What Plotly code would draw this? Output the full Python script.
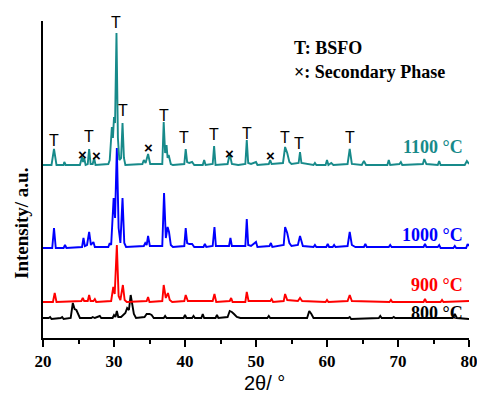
import plotly.graph_objects as go

# ---------------- data (2θ in degrees, intensity in arbitrary units, offset per curve) -------------
theta_1100 = [20.0, 21.2, 21.55, 21.9, 22.9, 23.0, 23.2, 25.2, 25.5, 25.65, 25.8, 26.0, 26.3, 26.5, 26.7,
              27.0, 27.2, 27.4, 29.2, 29.4, 29.7, 29.85, 30.0, 30.15, 30.35, 30.55, 30.75, 31.0, 31.2,
              31.4, 31.6, 34.0, 34.2, 34.45, 34.8, 35.1, 36.8, 37.0, 37.2, 37.4, 37.55, 37.7, 38.0, 38.3,
              39.9, 40.1, 40.3, 40.6, 41.0, 41.3, 42.5, 42.7, 42.9, 43.9, 44.1, 44.3, 46.0, 46.3, 46.6,
              47.5, 48.5, 48.7, 48.9, 49.3, 50.0, 50.2, 51.8, 52.0, 52.2, 53.8, 54.1, 54.4, 54.7, 55.0,
              56.0, 56.2, 56.4, 58.1, 58.3, 58.5, 59.8, 60.0, 60.2, 60.6, 60.9, 62.9, 63.2, 63.5, 64.9,
              65.2, 65.5, 68.5, 68.7, 68.9, 70.2, 70.4, 70.6, 73.5, 73.7, 74.0, 75.6, 75.8, 76.0, 79.4,
              79.7, 80.0]
int_1100 = [173, 173, 189, 173, 173, 176, 173, 173, 181, 176, 180, 173, 174, 189, 174,
            174, 180, 173, 174, 178, 211, 200, 221, 215, 305, 200, 178, 180, 215,
            180, 173, 174, 178, 175, 184, 174, 174, 216, 185, 193, 180, 183, 174, 173,
            174, 189, 176, 175, 176, 173, 173, 178, 173, 174, 192, 173, 174, 184, 174,
            173, 174, 198, 175, 174, 176, 173, 174, 178, 174, 175, 191, 185, 176, 174,
            175, 186, 175, 173, 175, 173, 173, 178, 173, 175, 173, 174, 189, 174, 173,
            177, 173, 173, 178, 173, 174, 176, 173, 174, 179, 174, 173, 177, 173, 173,
            177, 174]

theta_1000 = [20.0, 21.3, 21.55, 21.8, 22.9, 23.1, 23.3, 25.5, 25.7, 25.9, 26.2, 26.5, 26.75, 27.1, 27.3,
              29.2, 29.4, 29.6, 29.95, 30.15, 30.4, 30.65, 30.9, 31.2, 31.45, 31.7, 34.2, 34.4, 34.6,
              34.8, 35.05, 36.8, 37.05, 37.3, 37.55, 37.75, 38.0, 38.3, 39.9, 40.1, 40.3, 40.6, 41.0,
              41.3, 42.6, 42.8, 43.0, 43.9, 44.15, 44.35, 46.2, 46.4, 46.6, 48.5, 48.7, 48.9, 49.3,
              50.0, 50.2, 51.9, 52.1, 52.3, 53.9, 54.1, 54.4, 54.7, 55.0, 55.9, 56.2, 56.4, 56.6, 58.1,
              58.3, 58.5, 59.9, 60.1, 60.3, 60.8, 61.0, 61.2, 62.9, 63.2, 63.5, 64.0, 65.2, 65.4, 65.6,
              68.7, 68.9, 69.1, 73.6, 73.8, 74.0, 75.6, 75.8, 76.0, 77.8, 78.0, 78.2, 79.6, 79.8, 80.0]
int_1000 = [90, 90, 110, 90, 90, 93, 90, 91, 100, 92, 93, 106, 93, 96, 91,
            91, 95, 93, 140, 120, 190, 110, 95, 140, 95, 91, 92, 95, 93,
            102, 92, 92, 145, 100, 111, 106, 93, 91, 92, 110, 95, 94, 94,
            91, 91, 94, 91, 92, 111, 92, 92, 100, 92, 92, 119, 93, 92,
            96, 91, 92, 95, 91, 93, 111, 105, 95, 92, 93, 102, 98, 92, 91,
            93, 91, 91, 94, 91, 91, 93, 91, 92, 106, 93, 91, 91, 94, 91,
            91, 93, 91, 91, 94, 91, 91, 93, 90, 90, 92, 90, 90, 94, 92]

theta_900 = [20.0, 21.4, 21.65, 21.9, 25.4, 25.6, 25.8, 26.3, 26.5, 26.7, 27.1, 27.3, 27.5, 29.6, 29.9,
             30.1, 30.4, 30.65, 30.9, 31.25, 31.5, 31.8, 34.6, 34.8, 35.0, 36.8, 37.0, 37.3, 37.6,
             37.85, 38.2, 39.9, 40.1, 40.4, 43.9, 44.15, 44.4, 46.3, 46.5, 46.7, 48.5, 48.7, 48.95,
             52.0, 52.2, 52.4, 53.9, 54.1, 54.4, 55.9, 56.2, 56.5, 59.8, 60.0, 60.2, 62.9, 63.2, 63.5,
             68.8, 69.0, 69.2, 73.6, 73.8, 74.0, 76.0, 76.2, 76.4, 80.0]
int_900 = [36, 36, 45, 36, 37, 40, 37, 37, 43, 37, 37, 39, 36, 37, 51,
           44, 93, 42, 38, 53, 38, 36, 37, 41, 36, 37, 53, 40, 45,
           38, 36, 37, 43, 37, 37, 44, 36, 37, 40, 36, 36, 46, 37,
           37, 39, 36, 37, 44, 38, 37, 40, 37, 36, 38, 36, 37, 43, 37,
           36, 38, 36, 36, 39, 36, 36, 38, 36, 37]

theta_800 = [20.0, 20.8, 21.0, 21.2, 22.5, 22.7, 22.9, 23.9, 24.2, 24.45, 24.7, 24.95, 25.2, 26.8, 27.0,
             27.3, 28.0, 28.2, 29.8, 30.0, 30.2, 30.4, 30.6, 31.0, 31.6, 31.85, 32.1, 32.35, 32.6,
             32.8, 33.1, 34.3, 34.6, 35.0, 35.3, 35.6, 37.0, 37.2, 37.4, 39.8, 40.0, 40.2, 41.0, 41.2,
             41.4, 42.3, 42.5, 42.7, 44.3, 44.5, 44.7, 46.0, 46.3, 46.6, 46.9, 47.3, 47.8, 51.6, 51.8,
             52.0, 57.2, 57.5, 57.8, 58.1, 60.0, 63.0, 63.2, 63.4, 67.3, 67.5, 67.7, 69.2, 69.4, 69.6,
             77.7, 78.0, 78.3, 80.0]
int_800 = [20, 20, 21, 19, 20, 21, 19, 20, 35, 29, 28, 24, 20, 20, 21,
           20, 22, 20, 20, 23, 21, 27, 21, 21, 25, 30, 28, 43, 33,
           24, 20, 21, 24, 24, 23, 20, 20, 22, 20, 20, 23, 20, 20, 22,
           20, 20, 24, 20, 20, 23, 20, 21, 27, 26, 24, 21, 20, 20, 22,
           20, 20, 27, 24, 20, 20, 20, 21, 19, 20, 22, 20, 20, 21, 20,
           20, 24, 20, 19]

series_names = ["800 °C", "900 °C", "1000 °C", "1100 °C"]
series_colors = ["#000000", "#FF0000", "#0000FF", "#178A8A"]
label_y = [25, 53, 103, 191]

# BSFO (T) and secondary phase (×) markers on the 1100 °C curve
T_theta = [21.55, 26.5, 30.35, 31.2, 37.0, 39.9, 44.1, 48.7, 54.1, 56.1, 63.2]
T_int = [198, 202, 316, 228, 223, 201, 204, 205, 201, 195, 201]
X_theta = [25.5, 27.5, 34.9, 46.2, 52.0]
X_int = [184, 183, 191, 185, 183]

x_ticks = [20, 30, 40, 50, 60, 70, 80]

# ---------------- figure -------------
fig = go.Figure()
curves = [(theta_800, int_800), (theta_900, int_900), (theta_1000, int_1000), (theta_1100, int_1100)]
for (tx, ty), name, col in zip(curves, series_names, series_colors):
    fig.add_trace(go.Scatter(x=tx, y=ty, mode="lines", name=name,
                             line=dict(color=col, width=1.9), hoverinfo="skip"))

# phase markers
for tx, ty in zip(T_theta, T_int):
    fig.add_annotation(x=tx, y=ty, xref="x", yref="y", text="T", showarrow=False,
                       xanchor="center", yanchor="middle",
                       font=dict(family="Liberation Sans", size=16, color="#000000"))
for tx, ty in zip(X_theta, X_int):
    fig.add_annotation(x=tx, y=ty, xref="x", yref="y", text="×", showarrow=False,
                       xanchor="center", yanchor="middle",
                       font=dict(family="Liberation Sans", size=15, color="#000000", weight="bold"))

# curve labels
for name, col, ly in zip(series_names, series_colors, label_y):
    fig.add_annotation(x=79.4, y=ly, xref="x", yref="y", text=name, showarrow=False,
                       xanchor="right", yanchor="middle",
                       font=dict(family="Liberation Serif", size=18, color=col, weight="bold"))

# legend text
fig.add_annotation(x=55.07, y=290, xref="x", yref="y", text="T: BSFO", showarrow=False,
                   xanchor="left", yanchor="middle",
                   font=dict(family="Liberation Serif", size=18, color="#000000", weight="bold"))
fig.add_annotation(x=55.07, y=266, xref="x", yref="y", text="×: Secondary Phase", showarrow=False,
                   xanchor="left", yanchor="middle",
                   font=dict(family="Liberation Serif", size=18, color="#000000", weight="bold"))

# axis titles
fig.add_annotation(x=0.521, y=-0.142, xref="paper", yref="paper", text="2θ/ °", showarrow=False,
                   xanchor="center", yanchor="middle",
                   font=dict(family="Liberation Sans", size=20, color="#000000"))
fig.add_annotation(x=-0.049, y=0.36, xref="paper", yref="paper", text="Intensity/ a.u.",
                   showarrow=False, textangle=-90, xanchor="center", yanchor="middle",
                   font=dict(family="Liberation Serif", size=19, color="#000000", weight="bold"))

fig.update_layout(
    width=477, height=395,
    margin=dict(l=43, r=8, t=21, b=57, autoexpand=False),
    paper_bgcolor="white", plot_bgcolor="white",
    showlegend=False,
    xaxis=dict(range=[20, 80], tickvals=x_ticks, ticktext=[str(v) for v in x_ticks],
               automargin=False,
               showline=True, linecolor="black", linewidth=2, mirror=False,
               ticks="outside", ticklen=7, tickwidth=2, tickcolor="black",
               ticklabeloverflow="allow",
               minor=dict(dtick=5, tick0=20, ticks="outside", ticklen=4, tickwidth=1.5, tickcolor="black"),
               showgrid=False, zeroline=False,
               tickfont=dict(family="Liberation Serif", size=17, color="black", weight="bold")),
    yaxis=dict(range=[0, 317], showline=True, linecolor="black", linewidth=2, automargin=False,
               showticklabels=False, ticks="", showgrid=False, zeroline=False),
)

fig.write_html("out.html", config={"displayModeBar": False},
               post_script="document.body.style.margin='0';document.body.style.padding='0';"
                           "document.body.style.overflow='hidden';")
